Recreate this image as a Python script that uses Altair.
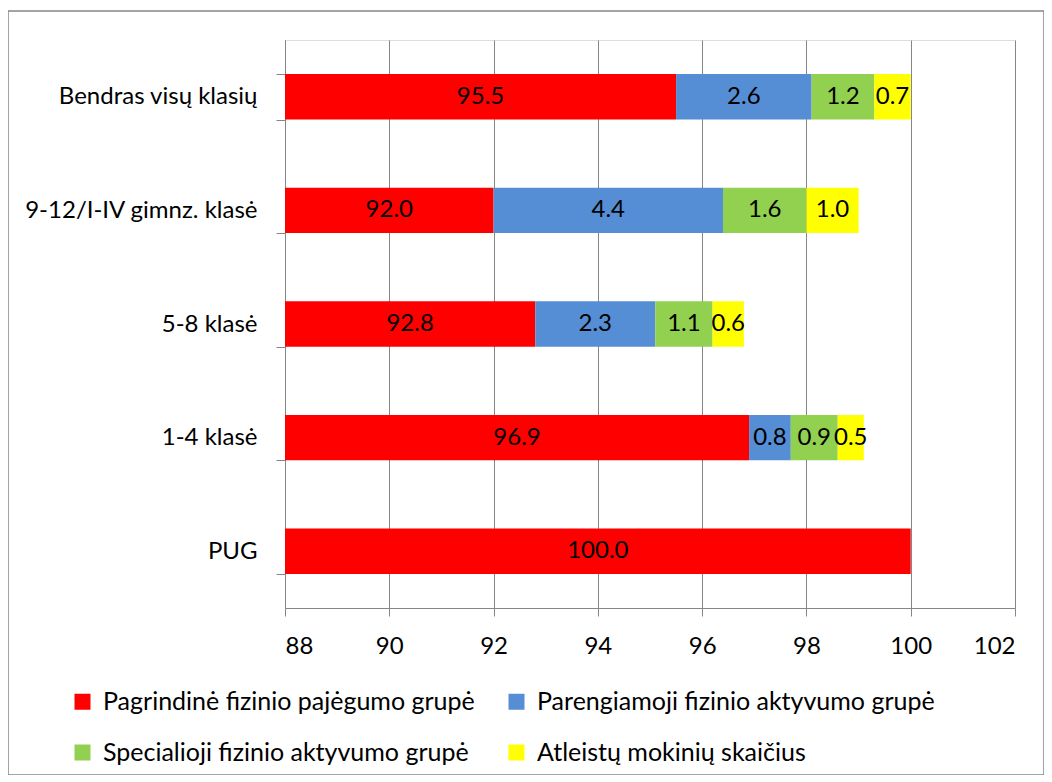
import altair as alt
import pandas as pd

categories = ["Bendras visų klasių", "9-12/I-IV gimnz. klasė", "5-8 klasė", "1-4 klasė", "PUG"]
groups = ["Pagrindinė fizinio pajėgumo grupė", "Parengiamoji fizinio aktyvumo grupė",
          "Specialioji fizinio aktyvumo grupė", "Atleistų mokinių skaičius"]
pagrindine = [95.5, 92.0, 92.8, 96.9, 100.0]
parengiamoji = [2.6, 4.4, 2.3, 0.8, None]
specialioji = [1.2, 1.6, 1.1, 0.9, None]
atleisti = [0.7, 1.0, 0.6, 0.5, None]
colors = ["#FF0000", "#558ED5", "#92D050", "#FFFF00"]
x_min, x_max = 88, 102

rows = []
for i, cat in enumerate(categories):
    start = 0.0
    for g, series in zip(groups, [pagrindine, parengiamoji, specialioji, atleisti]):
        v = series[i]
        if v is None:
            continue
        end = start + v
        rows.append({"cat": cat, "group": g, "value": v, "start": start, "end": end,
                     "mid": (max(start, x_min) + end) / 2, "order": groups.index(g)})
        start = end
df = pd.DataFrame(rows)

FONT = "Lato"
FS = 24
GRAY = "#868686"

xscale = alt.Scale(domain=[x_min, x_max], nice=False, zero=False)
yscale = alt.Scale(domain=categories, paddingInner=0.6, paddingOuter=0.3)

bars = alt.Chart(df).mark_bar(clip=True).encode(
    y=alt.Y("cat:N", scale=yscale, title=None,
            axis=alt.Axis(tickBand="extent", labelFontSize=FS, labelFont=FONT,
                          labelColor="#000000", tickSize=9, labelPadding=19,
                          domainColor=GRAY, tickColor=GRAY, labelLimit=400)),
    x=alt.X("start:Q", scale=xscale, title=None,
            axis=alt.Axis(values=list(range(88, 103, 2)), grid=True, gridColor=GRAY,
                          gridOpacity=1, labelFontSize=FS, labelFont=FONT,
                          labelColor="#000000", tickSize=8, labelPadding=18,
                          domainColor=GRAY, tickColor=GRAY)),
    x2="end:Q",
    color=alt.Color("group:N", scale=alt.Scale(domain=groups, range=colors),
                    legend=alt.Legend(title=None, orient="none", legendX=-215, legendY=649,
                                      direction="horizontal", columns=2,
                                      symbolType="square", symbolSize=256,
                                      symbolStrokeWidth=0, labelFontSize=25, labelFont=FONT,
                                      labelColor="#000000", labelOffset=8,
                                      columnPadding=29, rowPadding=25,
                                      padding=0, labelLimit=600, symbolOffset=0)),
    order="order:Q",
)

labels = alt.Chart(df).mark_text(fontSize=FS, font=FONT, color="#000000").encode(
    y=alt.Y("cat:N", scale=yscale),
    x=alt.X("mid:Q", scale=xscale),
    text=alt.Text("value:Q", format=".1f"),
)

frame = alt.Chart(pd.DataFrame({"a": [0]})).mark_rect(
    fill=None, stroke=GRAY, strokeWidth=1.5, clip=False
).encode(
    x=alt.value(-277), x2=alt.value(759), y=alt.value(-29), y2=alt.value(735)
)

chart = alt.layer(bars, labels, frame).properties(
    width=730, height=568,
    padding={"left": 277, "top": 32, "right": 29, "bottom": 167},
    autosize=alt.AutoSizeParams(type="none"),
).configure_view(stroke=None).configure(background="white")

chart.save("out.html", embed_options={"renderer": "svg", "actions": False})
